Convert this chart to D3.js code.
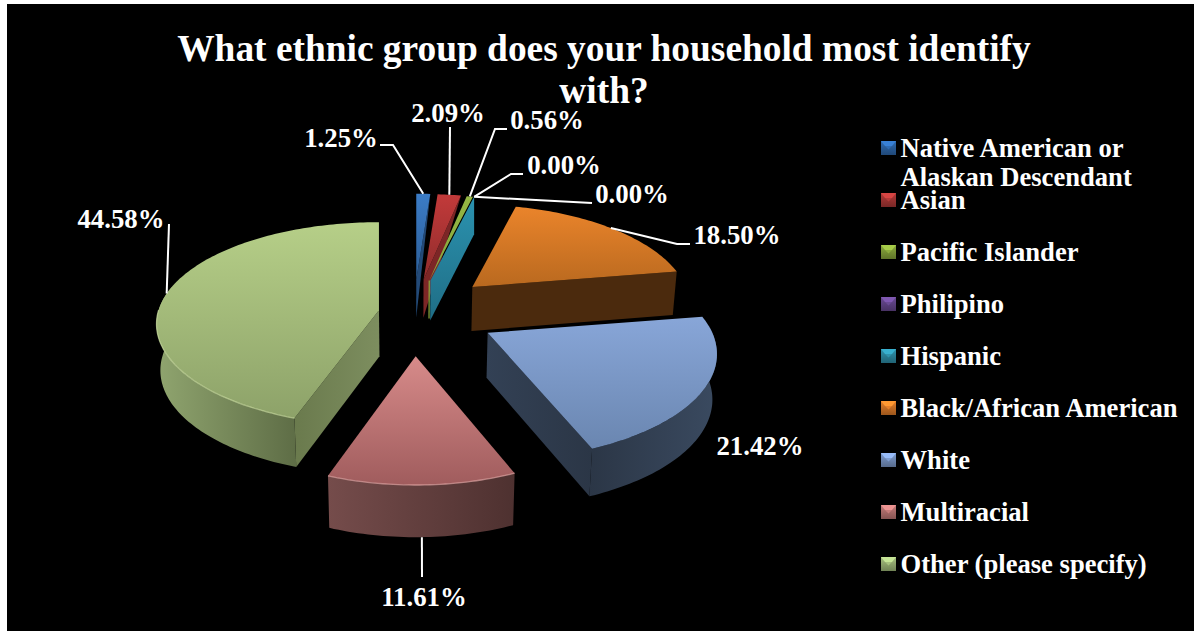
<!DOCTYPE html>
<html>
<head>
<meta charset="utf-8">
<script src="https://cdn.jsdelivr.net/npm/d3@7/dist/d3.min.js"></script>
<style>
html,body{margin:0;padding:0;background:#fff;overflow:hidden}
svg{display:block}
text{font-family:"Liberation Serif","Times New Roman",serif;font-weight:700;fill:#fff}
</style>
</head>
<body>
<svg id="chart" width="1194" height="631"></svg>
<script>
// Survey answers, in pie order (clockwise from twelve o'clock)
const categories = ["Native American or|Alaskan Descendant","Asian","Pacific Islander","Philipino","Hispanic","Black/African American","White","Multiracial","Other (please specify)"];
const shares = [1.25,2.09,0.56,0,0,18.5,21.42,11.61,44.58];
const shareLabels = ["1.25%","2.09%","0.56%","0.00%","0.00%","18.50%","21.42%","11.61%","44.58%"];
const titleLines = ["What ethnic group does your household most identify","with?"];

// How far each wedge is pulled out of the pie, as a share of the radius
const explode = [.325,.325,.325,.325,.325,.372,.395,.42,.163];
// Per-wedge radius stretch along x and y, and how strongly the far rim shrinks
const stretchX = [1,1,1,1,1,.995,1.045,.99,1.025];
const stretchY = [1,1,1,1,1,.96,.99,1,.97];
const foreshorten = [.2,.2,.2,.2,.2,.2,.2,.2,.136];
// Wall height of each wedge at its tip
const wallBase = [38,38,38,38,40,44,45,49,46];

// Fill ramps: top face [far, near], curved wall [left, right], cut wall [left, right]
const topRamps = [["#3b7cc6","#2b5d97"],["#c23a3a","#8f2c2c"],["#95b744","#86a63c"],["#6a4a94","#513873"],["#2b93b0","#1f6d85"],["#ea842b","#b9691f"],["#88a6d8","#6a86b0"],["#d78b8a","#a05c5d"],["#b6cf88","#8da269"]];
const rimRamps = [["#234a78","#234a78"],["#7c2626","#7c2626"],["#6c8a2c","#6c8a2c"],["#4a3468","#4a3468"],["#1f6d85","#1f6d85"],["#4b2a0d","#4b2a0d"],["#2b3646","#3a4a60"],["#754c4b","#4e3130"],["#90a56f","#5e6d46"]];
const cutRamps = [["#26548a","#2e659f"],["#842828","#9c3030"],["#7e9c38","#7e9c38"],["#4a3468","#4a3468"],["#2486a2","#1f6d85"],["#4b2a0d","#4b2a0d"],["#334155","#2b3646"],["#754c4b","#4e3130"],["#6a7a4d","#7d8e5f"]];
const keyColors = ["#2f6bb2","#b33a38","#8cab3d","#6a4a94","#2f93ad","#e6802a","#7f9dd0","#c67c7a","#a6c07e"];

// Leader elbows and label centres, by wedge; null means the label has no leader
const leaderBends = [[[393,145],[380,145]],[[450,127]],[[495,129],[507,129]],[[511,174],[523,174]],[[592,203]],[[677,244],[690,244]],null,[[422,577]],[[169,224]]];
const labelCentres = [[341,138],[448,113],[547,120],[564,165],[632,194],[737,235],[760,446],[424,597],[121,219]];

// Perspective ground plane: hub on screen and wedge radii
const hub = {x:413.5, y:313}, radiusX = 215, radiusY = 103;

const svg = d3.select("#chart");
const defs = svg.append("defs");
svg.append("rect").attr("x",7).attr("y",4).attr("width",1187).attr("height",627).attr("fill","#000");

const pie = d3.pie().sort(null).startAngle(0).endAngle(2*Math.PI).value(d=>d);
const wedges = pie(shares);
const line = d3.line();

function ramp(id, stops, vertical){
  const g = defs.append("linearGradient").attr("id",id).attr("x1",0).attr("y1",0)
    .attr("x2",vertical?0:1).attr("y2",vertical?1:0);
  g.append("stop").attr("offset",0).attr("stop-color",stops[0]);
  g.append("stop").attr("offset",1).attr("stop-color",stops[1]);
  return `url(#${id})`;
}

// Screen position of the wedge tip and of a rim point at angle a
function tip(d,i){
  const mid = (d.startAngle+d.endAngle)/2, e = explode[i]*radiusX;
  return [hub.x+Math.sin(mid)*e, hub.y-Math.cos(mid)*e*radiusY/radiusX];
}
function rimPoint(d,i,a){
  const t = tip(d,i), u = Math.sin(a), v = Math.cos(a), w = 1+foreshorten[i]*v;
  return [t[0]+stretchX[i]*radiusX*u/w, t[1]-stretchY[i]*radiusY*v/w, v];
}
// Drop a point by the wall height, leaning slightly toward the hub
function dropped(p,i,v){
  const h = wallBase[i]*(1-.065*v);
  return [p[0]-(p[0]-hub.x)*.015, p[1]+h];
}
function arcAngles(a0,a1){
  const n = Math.max(2,Math.ceil(Math.abs(a1-a0)/.02));
  return d3.range(n+1).map(k=>a0+(a1-a0)*k/n);
}

// Paint back to front so nearer wedges overlap farther ones
const paintOrder = [0,1,3,4,2,5,6,7,8];
paintOrder.forEach(i=>{
  const d = wedges[i], t = tip(d,i), g = svg.append("g");
  const a0 = d.startAngle, a1 = d.endAngle;
  const tipLow = dropped(t,i,0);
  const rimStart = rimPoint(d,i,a0), rimEnd = rimPoint(d,i,a1);
  const topPts = [t,...arcAngles(a0,a1).map(a=>rimPoint(d,i,a).slice(0,2))];

  if(d.value===0){
    // An empty answer still shows as a single upright wall
    if(categories[i]==="Hispanic"){
      g.append("path").attr("d",line([t,rimEnd.slice(0,2),[rimEnd[0],dropped(rimEnd,i,rimEnd[2])[1]],tipLow])+"Z")
        .attr("fill",ramp("cut"+i,topRamps[i],true));
    }
    return;
  }
  if(d.value<1){
    // The thinnest sliver shows only an edge below its tip
    g.append("path").attr("d",line([t,tipLow])).attr("stroke",keyColors[i]).attr("stroke-width",1.2).attr("fill","none");
  } else if(d.value<5){
    // Thin far slivers: the visible cut wall tapers straight from rim to foot
    g.append("path").attr("d",line([t,rimEnd.slice(0,2),tipLow])+"Z").attr("fill",rimRamps[i][0]);
  } else {
    // Cut wall on the side that faces the viewer
    const facing = i===8 ? rimStart : rimEnd;
    if(i!==7){
      g.append("path").attr("d",line([t,facing.slice(0,2),dropped(facing,i,facing[2]),tipLow])+"Z")
        .attr("fill",ramp("cut"+i,cutRamps[i],false));
    }
    // Curved outer wall for the near part of the rim
    const lo = Math.max(a0,Math.PI/2-.05), hi = Math.min(a1,3*Math.PI/2+.25);
    if(hi>lo && i!==5){
      const rim = arcAngles(lo,hi).map(a=>rimPoint(d,i,a));
      const low = rim.map(p=>dropped(p,i,p[2])).reverse();
      g.append("path").attr("d",line([...rim.map(p=>p.slice(0,2)),...low])+"Z")
        .attr("fill",ramp("rim"+i,rimRamps[i],false));
    }
  }
  g.append("path").attr("d",line(topPts)+"Z").attr("fill",ramp("top"+i,topRamps[i],true));
  // Soft bevel along the near rim of the pale wedges
  if(i>=7){
    const lo = Math.max(a0,Math.PI/2), hi = Math.min(a1,3*Math.PI/2);
    g.append("path").attr("d",line(arcAngles(lo,hi).map(a=>rimPoint(d,i,a).slice(0,2))))
      .attr("fill","none").attr("stroke",i===8?"#c9dca0":"#e0a5a4").attr("stroke-opacity",.7).attr("stroke-width",1.3);
  }
});

// Leader lines start on the rim at each wedge's middle angle
wedges.forEach((d,i)=>{
  if(!leaderBends[i]) return;
  const mid = (d.startAngle+d.endAngle)/2, rim = rimPoint(d,i,mid);
  const start = Math.cos(mid)<-.5 ? dropped(rim,i,rim[2]) : rim.slice(0,2);
  svg.append("path").attr("d",line([start,...leaderBends[i]]))
    .attr("fill","none").attr("stroke","#fff").attr("stroke-width",2);
});

// Value labels
svg.selectAll("text.value").data(shareLabels).join("text").attr("class","value")
  .attr("x",(d,i)=>labelCentres[i][0]).attr("y",(d,i)=>labelCentres[i][1]+9)
  .attr("text-anchor","middle").attr("font-size",26.8).text(d=>d);

// Title
svg.selectAll("text.title").data(titleLines).join("text").attr("class","title")
  .attr("x",604).attr("y",(d,i)=>61+i*42)
  .attr("text-anchor","middle").attr("font-size",37.4).text(d=>d);

// Legend rows with bevelled keys
const rowY = d3.scaleLinear().domain([0,8]).range([148,564]);
categories.forEach((c,i)=>{
  const y = rowY(i), g = svg.append("g").attr("transform",`translate(881,${y-7})`);
  const s = 15, h = 14;
  g.append("rect").attr("width",s).attr("height",h).attr("fill",ramp("key"+i,[keyColors[i],d3.color(keyColors[i]).darker(1.1).formatHex()],true));
  g.append("path").attr("d",line([[0,0],[s,0],[s-4,5],[4,5]])+"Z").attr("fill",d3.color(keyColors[i]).brighter(.5).formatHex());
  g.append("path").attr("d",line([[4,5],[s-4,5],[s/2,8.5]])+"Z").attr("fill",keyColors[i]);
  c.split("|").forEach((part,k)=>{
    svg.append("text").attr("x",900.5).attr("y",y+9+k*29).attr("font-size",26.6).text(part);
  });
});
</script>
</body>
</html>
